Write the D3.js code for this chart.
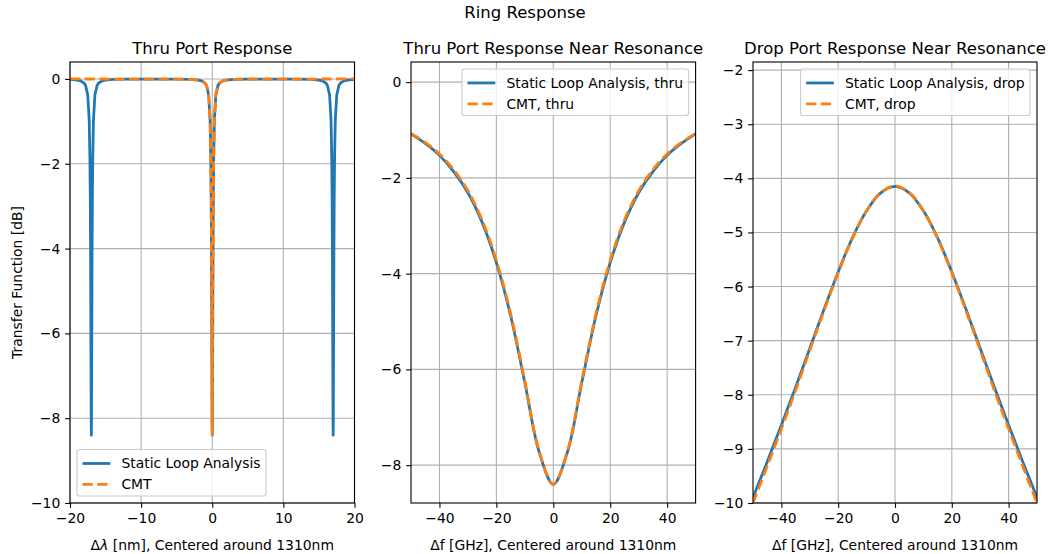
<!DOCTYPE html>
<html><head><meta charset="utf-8">
<script src="https://cdn.jsdelivr.net/npm/d3@7"></script>
<style>
body{margin:0;background:#fff;}
text{font-family:"DejaVu Sans",sans-serif;fill:#000;}
</style></head><body>
<svg id="chart" width="1050" height="554"></svg>
<script>
// ---------- data ----------
const wideLambda = [-20,-19,-18.5,-18,-17.8,-17.5,-17.3,-17.2,-17.15,-17.1,-17.05,-17.02,-17,-16.98,-16.95,-16.9,-16.85,-16.8,-16.7,-16.5,-16.2,-16,-15.5,-15,-14,-12,-10,-8.5,-7,-5,-3,-2,-1.5,-1,-0.8,-0.5,-0.3,-0.2,-0.15,-0.1,-0.05,-0.02,0,0.02,0.05,0.1,0.15,0.2,0.3,0.5,0.8,1,1.5,2,3,5,7,8.5,10,12,14,15,15.5,16,16.2,16.5,16.7,16.8,16.85,16.9,16.95,16.98,17,17.02,17.05,17.1,17.15,17.2,17.3,17.5,17.8,18,18.5,19,20];
const wideStaticDb = [-0.011,-0.026,-0.045,-0.101,-0.156,-0.385,-0.97,-1.86,-2.77,-4.29,-6.66,-8.05,-8.40,-8.05,-6.66,-4.29,-2.77,-1.86,-0.97,-0.385,-0.156,-0.101,-0.045,-0.026,-0.011,-0.005,-0.004,-0.003,-0.004,-0.005,-0.011,-0.026,-0.045,-0.101,-0.156,-0.385,-0.97,-1.86,-2.77,-4.29,-6.66,-8.05,-8.40,-8.05,-6.66,-4.29,-2.77,-1.86,-0.97,-0.385,-0.156,-0.101,-0.045,-0.026,-0.011,-0.005,-0.004,-0.003,-0.004,-0.005,-0.011,-0.026,-0.045,-0.101,-0.156,-0.385,-0.97,-1.86,-2.77,-4.29,-6.66,-8.05,-8.40,-8.05,-6.66,-4.29,-2.77,-1.86,-0.97,-0.385,-0.156,-0.101,-0.045,-0.026,-0.011];
const cmtLambda = [-20,-5,-3,-2,-1.5,-1,-0.8,-0.5,-0.3,-0.2,-0.15,-0.1,-0.05,-0.02,0,0.02,0.05,0.1,0.15,0.2,0.3,0.5,0.8,1,1.5,2,3,5,20];
const cmtDb = [0,-0.004,-0.011,-0.026,-0.045,-0.101,-0.156,-0.385,-0.97,-1.86,-2.77,-4.29,-6.66,-8.05,-8.40,-8.05,-6.66,-4.29,-2.77,-1.86,-0.97,-0.385,-0.156,-0.101,-0.045,-0.026,-0.011,-0.004,0];

const nearF = [-50,-45,-40,-35,-30,-25,-20,-15,-10,-5,0,5,10,15,20,25,30,35,40,45,50];
const thruStatic = [-1.08,-1.28,-1.53,-1.87,-2.31,-2.93,-3.77,-4.88,-6.28,-7.72,-8.40,-7.72,-6.28,-4.88,-3.77,-2.93,-2.31,-1.87,-1.53,-1.28,-1.08];
const thruCMT    = [-1.07,-1.26,-1.50,-1.83,-2.27,-2.88,-3.72,-4.83,-6.24,-7.70,-8.40,-7.70,-6.24,-4.83,-3.72,-2.88,-2.27,-1.83,-1.50,-1.26,-1.07];
const dropStatic = [-9.90,-9.24,-8.56,-7.86,-7.14,-6.42,-5.73,-5.10,-4.60,-4.27,-4.15,-4.27,-4.60,-5.10,-5.73,-6.42,-7.14,-7.86,-8.56,-9.24,-9.90];
const dropCMT    = [-10.00,-9.32,-8.63,-7.92,-7.18,-6.45,-5.75,-5.11,-4.60,-4.26,-4.14,-4.26,-4.60,-5.11,-5.75,-6.45,-7.18,-7.92,-8.63,-9.32,-10.00];

const wideXTicks = [-20,-10,0,10,20];
const wideYTicks = [0,-2,-4,-6,-8,-10];
const nearXTicks = [-40,-20,0,20,40];
const thruYTicks = [0,-2,-4,-6,-8];
const dropYTicks = [-2,-3,-4,-5,-6,-7,-8,-9,-10];

const titles = ["Thru Port Response","Thru Port Response Near Resonance","Drop Port Response Near Resonance"];
const legendLabels = [["Static Loop Analysis","CMT"],["Static Loop Analysis, thru","CMT, thru"],["Static Loop Analysis, drop","CMT, drop"]];
const suptitle = "Ring Response";
const yLabel = "Transfer Function [dB]";

// ---------- drawing ----------
const BLUE = "#1f77b4", ORANGE = "#ff7f0e";
const FS = 13.9, TFS = 16.5, LW = 2.78;
const svg = d3.select("#chart");
svg.append("rect").attr("width",1050).attr("height",554).attr("fill","#fff");

const plotTop = 62, plotBottom = 503;
const panels = [
  {left:70, right:354.5, xd:[-20,20], yd:[-10,0.4], xt:wideXTicks, yt:wideYTicks, curve:d3.curveLinear,
   series:[{x:wideLambda,y:wideStaticDb,c:BLUE,dash:null},{x:cmtLambda,y:cmtDb,c:ORANGE,dash:"10.3,4.45"}], legend:"ll", xlab:"wide"},
  {left:411, right:695.6, xd:[-50,50], yd:[-8.79,0.42], xt:nearXTicks, yt:thruYTicks, curve:d3.curveCatmullRom,
   series:[{x:nearF,y:thruStatic,c:BLUE,dash:null},{x:nearF,y:thruCMT,c:ORANGE,dash:"10.3,4.45"}], legend:"ur", xlab:"near"},
  {left:753, right:1037, xd:[-50,50], yd:[-10,-1.85], xt:nearXTicks, yt:dropYTicks, curve:d3.curveCatmullRom,
   series:[{x:nearF,y:dropStatic,c:BLUE,dash:null},{x:nearF,y:dropCMT,c:ORANGE,dash:"10.3,4.45"}], legend:"ur", xlab:"near"}
];
const fmt = d3.format("d");

panels.forEach((p,i)=>{
  const x = d3.scaleLinear().domain(p.xd).range([p.left,p.right]);
  const y = d3.scaleLinear().domain(p.yd).range([plotBottom,plotTop]);
  const g = svg.append("g");
  const cid = "clip"+i;
  svg.append("clipPath").attr("id",cid).append("rect")
    .attr("x",p.left).attr("y",plotTop).attr("width",p.right-p.left).attr("height",plotBottom-plotTop);
  // grid
  g.selectAll(".gx").data(p.xt).enter().append("line")
    .attr("x1",d=>x(d)).attr("x2",d=>x(d)).attr("y1",plotTop).attr("y2",plotBottom)
    .attr("stroke","#b0b0b0").attr("stroke-width",1.1);
  g.selectAll(".gy").data(p.yt).enter().append("line")
    .attr("y1",d=>y(d)).attr("y2",d=>y(d)).attr("x1",p.left).attr("x2",p.right)
    .attr("stroke","#b0b0b0").attr("stroke-width",1.1);
  // lines
  const lg = g.append("g").attr("clip-path",`url(#${cid})`);
  p.series.forEach(s=>{
    const pts = s.x.map((v,k)=>[v,s.y[k]]);
    const line = d3.line().x(d=>x(d[0])).y(d=>y(d[1])).curve(p.curve);
    lg.append("path").attr("d",line(pts)).attr("fill","none").attr("stroke",s.c)
      .attr("stroke-width",LW).attr("stroke-dasharray",s.dash).attr("stroke-linejoin","round");
  });
  // axes
  const ax = g.append("g").attr("transform",`translate(0,${plotBottom})`)
    .call(d3.axisBottom(x).tickValues(p.xt).tickFormat(fmt).tickSizeInner(4.86).tickSizeOuter(0).tickPadding(4.86));
  const ay = g.append("g").attr("transform",`translate(${p.left},0)`)
    .call(d3.axisLeft(y).tickValues(p.yt).tickFormat(fmt).tickSizeInner(4.86).tickSizeOuter(0).tickPadding(4.86));
  [ax,ay].forEach(a=>{
    a.select(".domain").remove();
    a.selectAll("line").attr("stroke","#000").attr("stroke-width",1.1);
    a.selectAll("text").attr("font-size",FS).attr("font-family","DejaVu Sans").attr("fill","#000");
  });
  // spines
  g.append("rect").attr("x",p.left).attr("y",plotTop).attr("width",p.right-p.left).attr("height",plotBottom-plotTop)
    .attr("fill","none").attr("stroke","#000").attr("stroke-width",1.1);
  // title
  svg.append("text").attr("x",(p.left+p.right)/2).attr("y",54).attr("text-anchor","middle")
    .attr("font-size",TFS).text(titles[i]);
  // x label
  const xl = svg.append("text").attr("x",(p.left+p.right)/2).attr("y",550).attr("text-anchor","middle").attr("font-size",FS);
  if(p.xlab==="wide"){
    xl.append("tspan").text("Δ");
    xl.append("tspan").attr("font-style","italic").text("λ");
    xl.append("tspan").text(" [nm], Centered around 1310nm");
  } else {
    xl.text("Δf [GHz], Centered around 1310nm");
  }
  // legend
  const labels = legendLabels[i];
  const pad = 0.4*FS, hl = 2*FS, htp = 0.8*FS, rowH = 1.5*FS, axPad = 0.5*FS;
  const leg = svg.append("g");
  const box = leg.append("rect");
  const texts = labels.map(l=>leg.append("text").attr("font-size",FS).text(l));
  const tw = d3.max(texts,t=>t.node().getComputedTextLength());
  const bw = pad*2 + hl + htp + tw;
  const bh = pad*2 + FS*1.0 + rowH + 0.7;
  let bx, by;
  if(p.legend==="ll"){ bx = p.left+axPad; by = plotBottom-axPad-bh; }
  else { bx = p.right-axPad-bw; by = plotTop+axPad; }
  box.attr("x",bx).attr("y",by).attr("width",bw).attr("height",bh).attr("rx",2.8)
    .attr("fill","#fff").attr("fill-opacity",0.8).attr("stroke","#cccccc").attr("stroke-width",1.1);
  labels.forEach((l,k)=>{
    const cy = by + pad + FS*0.5 + 0.5 + k*rowH + 1.0;
    leg.append("line").attr("x1",bx+pad).attr("x2",bx+pad+hl).attr("y1",cy).attr("y2",cy)
      .attr("stroke",k===0?BLUE:ORANGE).attr("stroke-width",LW).attr("stroke-dasharray",k===0?null:"10.3,4.45");
    texts[k].attr("x",bx+pad+hl+htp).attr("y",cy).attr("dy","0.36em");
  });
});

// suptitle
svg.append("text").attr("x",525).attr("y",18).attr("text-anchor","middle").attr("font-size",TFS).text(suptitle);
// y label
svg.append("text").attr("transform","translate(22,282.5) rotate(-90)").attr("text-anchor","middle")
  .attr("font-size",FS).text(yLabel);
</script>
</body></html>
